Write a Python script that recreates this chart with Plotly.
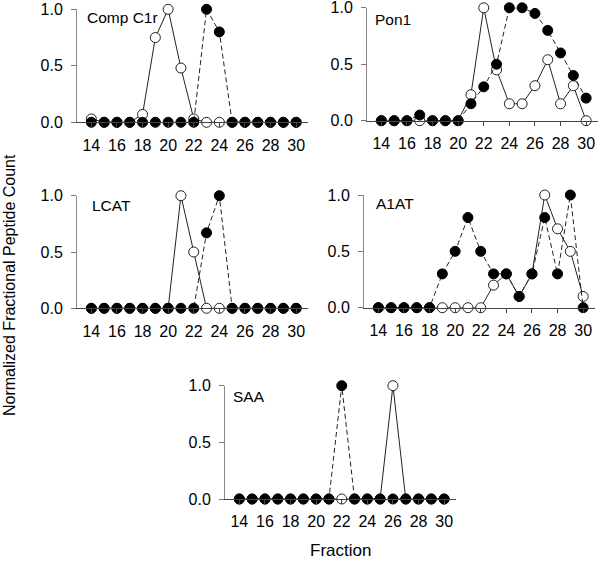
import plotly.graph_objects as go

fractions = list(range(14, 31))

panel_names = ["Comp C1r", "Pon1", "LCAT", "A1AT", "SAA"]

# open circles (solid line)
c1r_open = [0.03, 0, 0, 0, 0.07, 0.75, 1.0, 0.48, 0.03, 0, 0, 0, 0, 0, 0, 0, 0]
# filled circles (dashed line)
c1r_filled = [0, 0, 0, 0, 0, 0, 0, 0, 0, 1.0, 0.8, 0, 0, 0, 0, 0, 0]

pon1_open = [0, 0, 0, 0, 0, 0, 0, 0.23, 1.0, 0.45, 0.15, 0.15, 0.31, 0.54, 0.15, 0.31, 0]
pon1_filled = [0, 0, 0, 0.05, 0, 0, 0, 0.15, 0.3, 0.5, 1.0, 1.0, 0.95, 0.8, 0.6, 0.4, 0.2]

lcat_open = [0, 0, 0, 0, 0, 0, 0, 1.0, 0.5, 0, 0, 0, 0, 0, 0, 0, 0]
lcat_filled = [0, 0, 0, 0, 0, 0, 0, 0, 0, 0.67, 1.0, 0, 0, 0, 0, 0, 0]

a1at_open = [0, 0, 0, 0, 0, 0, 0, 0, 0, 0.2, 0.3, 0.1, 0.3, 1.0, 0.7, 0.5, 0.1]
a1at_filled = [0, 0, 0, 0, 0, 0.3, 0.5, 0.8, 0.5, 0.3, 0.3, 0.1, 0.3, 0.8, 0.3, 1.0, 0]

saa_open = [0, 0, 0, 0, 0, 0, 0, 0, 0, 0, 0, 0, 1.0, 0, 0, 0, 0]
saa_filled = [0, 0, 0, 0, 0, 0, 0, 0, 1.0, 0, 0, 0, 0, 0, 0, 0, 0]

open_series = [c1r_open, pon1_open, lcat_open, a1at_open, saa_open]
filled_series = [c1r_filled, pon1_filled, lcat_filled, a1at_filled, saa_filled]

x_ticks = [14, 16, 18, 20, 22, 24, 26, 28, 30]
y_ticks = [0, 0.5, 1.0]

W, H = 600, 561
FONT = "Liberation Sans, Arial, sans-serif"
# panel boxes in pixels: (left, top, bottom)
boxes = [(77, 9.3, 122.3), (367, 7.8, 120.7), (77, 195.7, 308.3),
         (364, 195, 307.7), (225, 385.7, 499)]
# panel label placement (dx from axis, dy below top), pixels
label_off = [(8, 8), (6, 12), (13, 10), (10, 8.5), (6.5, 11)]
xr = [12.88, 30.95]
unit = 12.8

fig = go.Figure()
layout = {}
annotations = []
for i, (name, op, fl, box, lo) in enumerate(zip(panel_names, open_series, filled_series, boxes, label_off)):
    n = "" if i == 0 else str(i + 1)
    left, top, bottom = box
    right = left + (xr[1] - xr[0]) * unit
    fig.add_trace(go.Scatter(
        x=fractions, y=op, mode="lines+markers", xaxis="x" + n, yaxis="y" + n,
        line=dict(color="#222222", width=1),
        marker=dict(symbol="circle", size=10, color="white", line=dict(color="#222222", width=1)),
        cliponaxis=False, showlegend=False, hoverinfo="skip"))
    fig.add_trace(go.Scatter(
        x=fractions, y=fl, mode="lines+markers", xaxis="x" + n, yaxis="y" + n,
        line=dict(color="#222222", width=1, dash="5px,3px"),
        marker=dict(symbol="circle", size=10, color="black", line=dict(color="black", width=1)),
        cliponaxis=False, showlegend=False, hoverinfo="skip"))
    layout["xaxis" + n] = dict(
        domain=[left / W, right / W], range=xr, anchor="y" + n,
        tickvals=x_ticks, ticks="outside", ticklen=4, tickcolor="#444444",
        ticklabelstandoff=4, ticklabeloverflow="allow",
        showline=True, linecolor="#444444", linewidth=1, showgrid=False, zeroline=False,
        tickfont=dict(family=FONT, size=16, color="black"))
    layout["yaxis" + n] = dict(
        domain=[1 - bottom / H, 1 - top / H], range=[0, 1], anchor="x" + n,
        tickvals=y_ticks, tickformat=".1f", ticks="outside", ticklen=5, tickcolor="#777777",
        ticklabelstandoff=5, ticklabeloverflow="allow",
        showline=True, linecolor="#888888", linewidth=1, showgrid=False, zeroline=False,
        tickfont=dict(family=FONT, size=16, color="black"))
    annotations.append(dict(
        text=name, xref="paper", yref="paper", x=(left + lo[0]) / W, y=1 - (top + lo[1]) / H,
        xanchor="left", yanchor="middle", showarrow=False,
        font=dict(family=FONT, size=15.5, color="black")))

annotations.append(dict(
    text="Normalized Fractional Peptide Count", xref="paper", yref="paper",
    x=9 / W, y=1 - 285 / H, textangle=-90, showarrow=False,
    xanchor="center", yanchor="middle",
    font=dict(family=FONT, size=16, color="black")))
annotations.append(dict(
    text="Fraction", xref="paper", yref="paper",
    x=340 / W, y=1 - 550 / H, showarrow=False, xanchor="center", yanchor="middle",
    font=dict(family=FONT, size=17, color="black")))

fig.update_layout(**layout)
fig.update_layout(
    width=W, height=H, margin=dict(l=0, r=0, t=0, b=0, autoexpand=False),
    paper_bgcolor="white", plot_bgcolor="white", annotations=annotations,
    hovermode=False)

fig.write_html("out.html", config={"displayModeBar": False, "staticPlot": True},
               post_script="document.body.style.margin='0';document.body.style.overflow='hidden';")
